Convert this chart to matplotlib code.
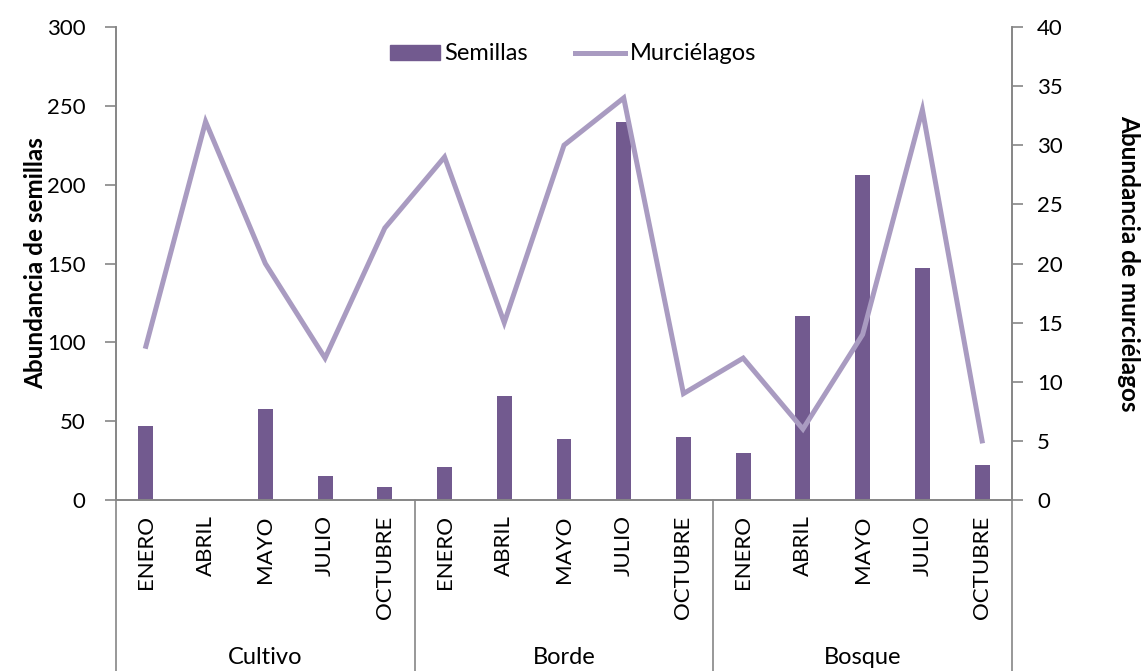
import numpy as np
import matplotlib.pyplot as plt
from matplotlib.lines import Line2D
from matplotlib.patches import Patch

plt.rcParams['font.family'] = ['Lato', 'DejaVu Sans']

groups = ['Cultivo', 'Borde', 'Bosque']
months = ['ENERO', 'ABRIL', 'MAYO', 'JULIO', 'OCTUBRE']
semillas = [47, 0, 58, 15, 8,
            21, 66, 39, 240, 40,
            30, 117, 206, 147, 22]
murcielagos = [13, 32, 20, 12, 23,
               29, 15, 30, 34, 9,
               12, 6, 14, 33, 5]

bar_color = '#725A8F'
line_color = '#A99BC1'
axis_color = '#868686'

labels = months * len(groups)
x = np.arange(len(labels))

fig = plt.figure(figsize=(11.44, 6.71), dpi=100)
ax = fig.add_axes([0.1014, 0.2548, 0.7832, 0.705])
ax2 = ax.twinx()

ax.bar(x, semillas, width=0.25, color=bar_color, zorder=2)
ax2.plot(x, murcielagos, color=line_color, linewidth=3.6, solid_joinstyle='miter', zorder=3)

ax.set_xlim(-0.5, len(labels) - 0.5)
ax.set_ylim(0, 300)
ax2.set_ylim(0, 40)
ax.set_yticks(range(0, 301, 50))
ax2.set_yticks(range(0, 41, 5))

for a in (ax, ax2):
    for s in a.spines.values():
        s.set_color(axis_color)
        s.set_linewidth(1.2)
    a.spines['top'].set_visible(False)
    a.tick_params(axis='y', colors=axis_color, labelcolor='black', labelsize=16,
                  length=8, width=1.2, direction='out')
ax.tick_params(axis='y', pad=14)
ax2.tick_params(axis='y', pad=10)

ax.set_xticks(x)
ax.set_xticklabels(labels, rotation=90, fontsize=16, va='top')
ax.tick_params(axis='x', length=0, pad=11)

# group separators and group labels below the axis
n = len(months)
for i in range(len(groups) + 1):
    xpos = i * n - 0.5
    ax.plot([xpos, xpos], [0, -0.362], color=axis_color, linewidth=1.2,
            transform=ax.get_xaxis_transform(), clip_on=False)
for i, g in enumerate(groups):
    ax.text(i * n + (n - 1) / 2, -0.332, g, transform=ax.get_xaxis_transform(),
            ha='center', va='center', fontsize=17)

ax.set_ylabel('Abundancia de semillas', fontsize=17.5, fontweight='bold', labelpad=0)
ax2.set_ylabel('Abundancia de murciélagos', fontsize=17.5, fontweight='bold',
               rotation=-90, labelpad=56)

handles = [Patch(color=bar_color, label='Semillas'),
           Line2D([0], [0], color=line_color, linewidth=3.6, label='Murciélagos')]
ax.legend(handles=handles, loc='upper center', bbox_to_anchor=(0.51, 1.01), ncol=2,
          frameon=False, fontsize=17, handlelength=2.1, handleheight=0.6,
          columnspacing=2.0, handletextpad=0.2)

fig.savefig('out.png', dpi=100)
